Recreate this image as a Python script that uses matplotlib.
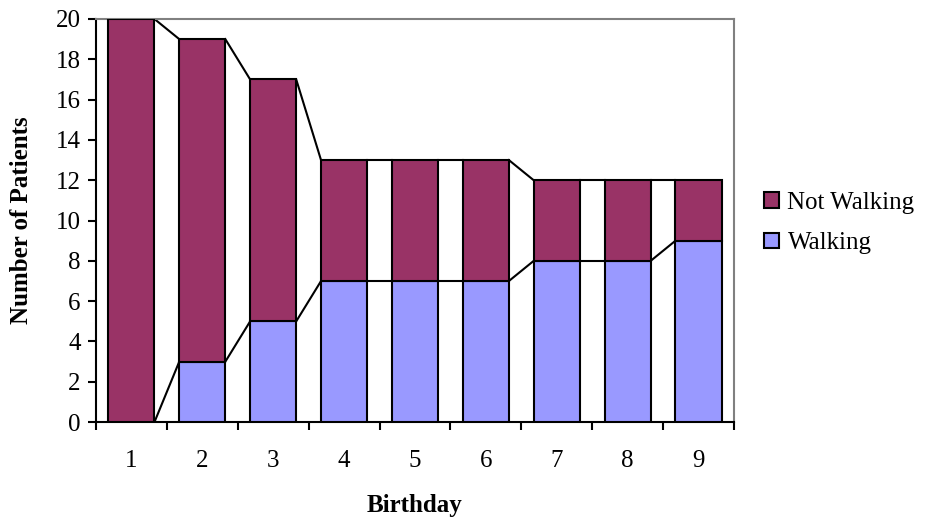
import matplotlib.pyplot as plt
import numpy as np
from matplotlib.ticker import FixedLocator

plt.rcParams['font.family'] = ['Liberation Serif', 'DejaVu Serif']

# data
birthdays = ['1', '2', '3', '4', '5', '6', '7', '8', '9']
walking = [0, 3, 5, 7, 7, 7, 8, 8, 9]
not_walking = [20, 16, 12, 6, 6, 6, 4, 4, 3]

x = np.arange(1, len(birthdays) + 1)
w = 0.65
walking = np.array(walking)
total = walking + np.array(not_walking)

fig = plt.figure(figsize=(9.28, 5.27), dpi=100)
ax = fig.add_axes([0.1034, 0.199, 0.6875, 0.765])

ax.bar(x, walking, w, color='#9999FF', edgecolor='black', linewidth=1.5,
       label='Walking', zorder=3)
ax.bar(x, not_walking, w, bottom=walking, color='#993366', edgecolor='black',
       linewidth=1.5, label='Not Walking', zorder=3)

# series lines between bars
for level in (walking, total):
    for i in range(len(x) - 1):
        ax.plot([x[i] + w / 2, x[i + 1] - w / 2], [level[i], level[i + 1]],
                color='black', linewidth=1.5, zorder=2)

ax.set_xlim(0.5, len(x) + 0.5)
ax.set_ylim(0, 20)
ax.set_yticks(range(0, 21, 2))
ax.set_xticks(x)
ax.set_xticklabels(birthdays)
ax.xaxis.set_minor_locator(FixedLocator(np.arange(0.5, len(x) + 1, 1)))
ax.tick_params(axis='x', which='major', length=0, pad=20, labelsize=18)
ax.tick_params(axis='x', which='minor', length=6, width=1.5, direction='out')
ax.tick_params(axis='y', length=6, width=1.5, direction='out', labelsize=18,
               pad=5)

for s in ('left', 'bottom'):
    ax.spines[s].set_linewidth(1.5)
    ax.spines[s].set_color('black')
for s in ('top', 'right'):
    ax.spines[s].set_linewidth(1.5)
    ax.spines[s].set_color('#808080')

ax.set_xlabel('Birthday', fontsize=18, fontweight='bold', labelpad=16)
ax.set_ylabel('Number of Patients', fontsize=18, fontweight='bold', labelpad=16)

handles, labels = ax.get_legend_handles_labels()
fig.legend(handles[::-1], labels[::-1], loc='center left',
           bbox_to_anchor=(0.823, 0.577), frameon=False, fontsize=18,
           handlelength=0.6, handleheight=0.6, handletextpad=0.35,
           labelspacing=0.75, borderpad=0.0, borderaxespad=0.0)

plt.savefig('out.png', dpi=100)
